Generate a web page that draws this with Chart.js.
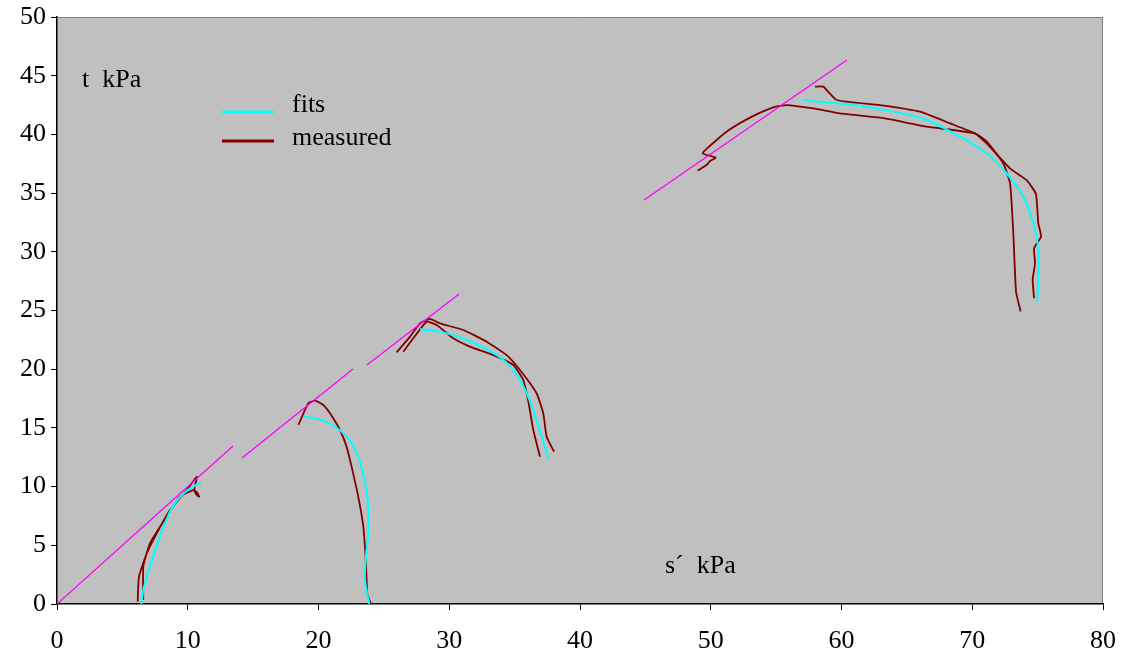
<!DOCTYPE html>
<html>
<head>
<meta charset="utf-8">
<script src="https://cdn.jsdelivr.net/npm/chart.js@4.4.1/dist/chart.umd.min.js"></script>
<style>
  html, body { margin: 0; padding: 0; background: #fff; }
  #wrap { width: 1125px; height: 663px; }
</style>
</head>
<body>
<div id="wrap"><canvas id="chart" width="1125" height="663"></canvas></div>
<script>
// ==================== DATA ====================
const xTicks = [0, 10, 20, 30, 40, 50, 60, 70, 80];
const yTicks = [0, 5, 10, 15, 20, 25, 30, 35, 40, 45, 50];

// failure envelope segments (s', t)
const env1 = [[0, 0], [13.46, 13.46]];
const env2 = [[14.15, 12.44], [22.64, 20.02]];
const env3 = [[23.71, 20.36], [30.75, 26.4]];
const env4 = [[44.9, 34.41], [60.42, 46.34]];

// fitted stress paths
const fit1 = [[6.45, 0], [6.65, 1.45], [7.4, 4.2], [8.2, 6.7], [8.9, 8.4], [9.9, 9.6], [11.07, 10.4]];
const fit2 = [[18.84, 16.0], [20.4, 15.6], [21.64, 14.8], [22.6, 13.6], [23.3, 11.6], [23.73, 9.14],
              [23.81, 6.3], [23.63, 4.03], [23.56, 2.04], [23.89, 0]];
const fit3 = [[27.76, 23.4], [29.29, 23.2], [31.33, 22.49], [33.63, 21.2], [34.9, 19.93],
              [35.92, 17.95], [36.68, 15.67], [37.57, 12.41]];
const fit4 = [[57.0, 42.93], [61.41, 42.42], [63.96, 41.94], [66.51, 41.23], [69.06, 39.8],
              [71.1, 38.39], [72.63, 36.69], [73.9, 34.7], [74.67, 32.43], [75.05, 30.15],
              [74.98, 25.75]];

// measured stress paths
const meas1 = [[6.17, 0.2], [6.27, 2.33], [6.86, 4.3], [7.62, 6.0], [8.64, 8.0], [9.92, 9.7],
               [10.7, 10.85], [10.5, 9.7], [10.68, 9.28], [10.88, 9.14], [10.7, 9.5],
               [10.43, 9.7], [9.4, 9.14], [8.39, 7.44], [7.11, 5.17], [6.6, 3.18], [6.6, 0.34]];
const meas2 = [[18.46, 15.25], [19.22, 17.1], [19.73, 17.32], [20.37, 16.95], [20.88, 16.24],
               [21.64, 14.82], [22.15, 13.4], [22.53, 11.7], [23.04, 9.14], [23.43, 6.58],
               [23.63, 3.47], [23.73, 0.91], [23.99, 0.06]];
const meas3a = [[25.98, 21.44], [27.0, 22.77], [27.76, 23.9], [28.53, 24.28], [29.29, 23.9],
                [31.07, 23.34], [32.86, 22.34], [34.39, 21.2], [35.41, 19.93], [36.68, 17.95],
                [37.19, 16.24], [37.45, 14.25], [38.01, 12.98]];
const meas3b = [[26.49, 21.49], [27.25, 22.63], [28.27, 24.05], [29.04, 23.76], [30.31, 22.63],
                [31.58, 21.92], [33.37, 21.2], [34.9, 20.36], [35.66, 19.08], [36.05, 17.24],
                [36.43, 14.82], [36.94, 12.55]];
const meas4a = [[49.0, 36.91], [49.68, 37.39], [49.94, 37.73], [50.37, 38.02], [49.38, 38.39],
                [50.45, 39.52], [51.47, 40.43], [53.0, 41.43], [54.78, 42.3], [55.8, 42.5],
                [57.84, 42.22], [59.88, 41.8], [62.94, 41.43], [63.96, 41.23], [66.51, 40.66],
                [70.2, 40.09], [71.1, 39.4], [72.37, 37.54], [72.89, 35.84], [73.14, 31.58],
                [73.35, 26.6], [73.7, 24.91]];
const meas4b = [[57.97, 44.07], [58.6, 44.07], [59.63, 42.93], [62.94, 42.5], [66.0, 41.94],
                [68.3, 40.94], [70.2, 40.09], [71.1, 39.23], [72.89, 37.1], [74.16, 36.1],
                [74.87, 34.92], [75.05, 32.43], [75.26, 31.3], [74.73, 30.3], [74.8, 29.02],
                [74.62, 27.6], [74.73, 26.04]];

const envelopes = [env1, env2, env3, env4];
const fits = [fit1, fit2, fit3, fit4];
const measured = [meas1, meas2, meas3a, meas3b, meas4a, meas4b];

const CYAN = '#00ffff';
const DARKRED = '#800000';
const MAGENTA = '#ff00ff';
const FONT = "'Liberation Serif', 'Times New Roman', serif";

function toPts(arr) { return arr.map(p => ({ x: p[0], y: p[1] })); }

function lineSet(arr, color, width, tension) {
    return {
        data: toPts(arr),
        showLine: true,
        borderColor: color,
        borderWidth: width,
        pointRadius: 0,
        tension: tension || 0,
        fill: false
    };
}

const datasets = []
    .concat(envelopes.map(a => lineSet(a, MAGENTA, 1.3)))
    .concat(fits.map(a => lineSet(a, CYAN, 2, 0.3)))
    .concat(measured.map(a => lineSet(a, DARKRED, 1.8, 0.15)));

// gray plot area + light frame on top/right
const plotBg = {
    id: 'plotBg',
    beforeDraw(chart) {
        const { ctx, chartArea: a } = chart;
        ctx.save();
        ctx.fillStyle = '#c0c0c0';
        ctx.fillRect(a.left, a.top, a.right - a.left, a.bottom - a.top);
        ctx.strokeStyle = '#808080';
        ctx.lineWidth = 1;
        ctx.beginPath();
        ctx.moveTo(a.left, a.top + 0.5);
        ctx.lineTo(a.right - 0.5, a.top + 0.5);
        ctx.lineTo(a.right - 0.5, a.bottom);
        ctx.stroke();
        ctx.restore();
    }
};

// axis titles and legend sit inside the plot area
const annotations = {
    id: 'annotations',
    afterDraw(chart) {
        const { ctx, chartArea: a } = chart;
        ctx.save();
        ctx.fillStyle = '#000';
        ctx.textBaseline = 'middle';
        ctx.font = '26px ' + FONT;
        ctx.fillText('t  kPa', a.left + 25, 80);
        ctx.fillText('s\u00B4  kPa', 665, 566);

        ctx.lineWidth = 3;
        ctx.strokeStyle = CYAN;
        ctx.beginPath(); ctx.moveTo(222, 112); ctx.lineTo(274, 112); ctx.stroke();
        ctx.fillText('fits', 292, 105);
        ctx.strokeStyle = DARKRED;
        ctx.beginPath(); ctx.moveTo(222, 141); ctx.lineTo(274, 141); ctx.stroke();
        ctx.fillText('measured', 292, 138);
        ctx.restore();
    }
};

new Chart(document.getElementById('chart'), {
    type: 'scatter',
    data: { datasets },
    plugins: [plotBg, annotations],
    options: {
        responsive: false,
        animation: false,
        layout: { padding: { top: 17, right: 22, left: 0, bottom: 0 } },
        plugins: { legend: { display: false }, tooltip: { enabled: false } },
        scales: {
            x: {
                type: 'linear', min: 0, max: 80,
                afterBuildTicks: s => { s.ticks = xTicks.map(v => ({ value: v })); },
                afterFit: s => { s.height = 59; s.paddingLeft = 0; s.paddingRight = 0; },
                border: { color: '#000', width: 1.5 },
                grid: { display: true, drawOnChartArea: false, drawTicks: true, tickLength: 6, color: '#000' },
                ticks: { color: '#000', padding: 16, maxRotation: 0, font: { family: FONT, size: 26 } }
            },
            y: {
                type: 'linear', min: 0, max: 50,
                afterBuildTicks: s => { s.ticks = yTicks.map(v => ({ value: v })); },
                afterFit: s => { s.width = 57; s.paddingTop = 0; s.paddingBottom = 0; },
                border: { color: '#000', width: 1.5 },
                grid: { display: true, drawOnChartArea: false, drawTicks: true, tickLength: 6, color: '#000' },
                ticks: { color: '#000', padding: 5, font: { family: FONT, size: 26 } }
            }
        }
    }
});
</script>
</body>
</html>
